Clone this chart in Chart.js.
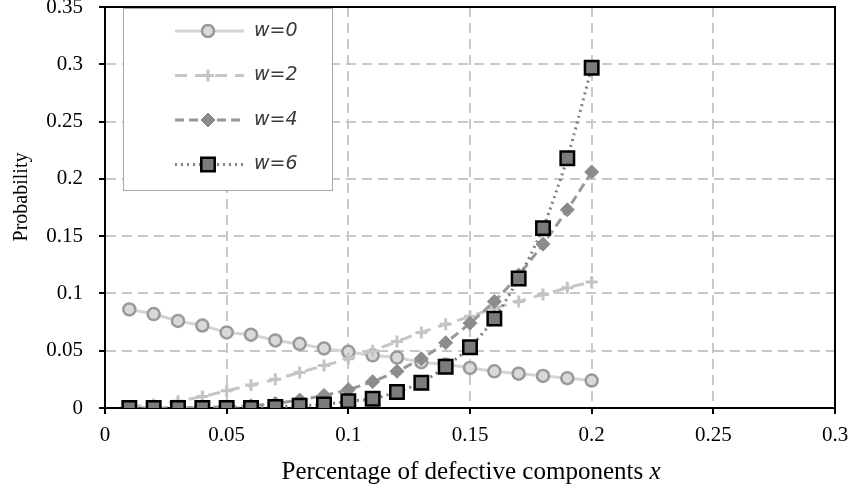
<!DOCTYPE html>
<html>
<head>
<meta charset="utf-8">
<script src="https://cdn.jsdelivr.net/npm/chart.js@4.4.0/dist/chart.umd.min.js"></script>
<style>
  html, body { margin: 0; padding: 0; background: #ffffff; }
  canvas { display: block; }
</style>
</head>
<body>
<canvas id="chart" width="855" height="492"></canvas>
<script>
// Share of defective components (x axis)
const defectShare = [0.01, 0.02, 0.03, 0.04, 0.05, 0.06, 0.07, 0.08, 0.09, 0.10,
                     0.11, 0.12, 0.13, 0.14, 0.15, 0.16, 0.17, 0.18, 0.19, 0.20];

// Probability for each w
const probW0 = [0.086, 0.082, 0.076, 0.072, 0.066, 0.064, 0.059, 0.056, 0.052, 0.049,
                0.046, 0.044, 0.040, 0.038, 0.035, 0.032, 0.030, 0.028, 0.026, 0.024];
const probW2 = [0.001, 0.003, 0.006, 0.010, 0.015, 0.020, 0.025, 0.031, 0.037, 0.043,
                0.050, 0.058, 0.066, 0.073, 0.080, 0.087, 0.093, 0.099, 0.105, 0.110];
const probW4 = [0.000, 0.000, 0.000, 0.0005, 0.001, 0.002, 0.004, 0.007, 0.011, 0.016,
                0.023, 0.032, 0.043, 0.057, 0.074, 0.093, 0.116, 0.143, 0.173, 0.206];
const probW6 = [0.000, 0.000, 0.000, 0.000, 0.000, 0.000, 0.001, 0.002, 0.003, 0.006,
                0.008, 0.014, 0.022, 0.036, 0.053, 0.078, 0.113, 0.157, 0.218, 0.297];

const seriesNames = ['w=0', 'w=2', 'w=4', 'w=6'];
const xTickLabels = ['0', '0.05', '0.1', '0.15', '0.2', '0.25', '0.3'];
const yTickLabels = ['0', '0.05', '0.1', '0.15', '0.2', '0.25', '0.3', '0.35'];
const yTitleText = 'Probability';
const xTitleText = 'Percentage of defective components ';
const xTitleVar = 'x';

const SERIF = '"Liberation Serif", "Times New Roman", serif';

function points(values) {
  return defectShare.map((x, i) => ({ x: x, y: values[i] }));
}

// Black frame on the top and right of the plot area
const frame = {
  id: 'frame',
  beforeDatasetsDraw(chart) {
    const { ctx, chartArea: a } = chart;
    ctx.save();
    ctx.strokeStyle = '#000';
    ctx.lineWidth = 2;
    ctx.beginPath();
    ctx.moveTo(a.left, a.top);
    ctx.lineTo(a.right, a.top);
    ctx.lineTo(a.right, a.bottom);
    ctx.stroke();
    ctx.restore();
  }
};

// Axis titles (x title has an italic variable name)
const axisTitles = {
  id: 'axisTitles',
  afterDraw(chart) {
    const { ctx, chartArea: a } = chart;
    ctx.save();
    ctx.fillStyle = '#000';
    ctx.textBaseline = 'middle';
    // x title
    const upright = '25px ' + SERIF;
    const slanted = 'italic 25px ' + SERIF;
    ctx.font = upright;
    const w1 = ctx.measureText(xTitleText).width;
    ctx.font = slanted;
    const w2 = ctx.measureText(xTitleVar).width;
    const cx = (a.left + a.right) / 2 + 1;
    const x0 = cx - (w1 + w2) / 2;
    ctx.textAlign = 'left';
    ctx.font = upright;
    ctx.fillText(xTitleText, x0, 472);
    ctx.font = slanted;
    ctx.fillText(xTitleVar, x0 + w1, 472);
    // y title
    ctx.translate(22, 197);
    ctx.rotate(-Math.PI / 2);
    ctx.textAlign = 'center';
    ctx.font = '20px ' + SERIF;
    ctx.fillText(yTitleText, 0, 0);
    ctx.restore();
  }
};

// Boxed legend inside the plot area: line sample, marker, label
const boxLegend = {
  id: 'boxLegend',
  afterDraw(chart, args, opts) {
    const { ctx } = chart;
    const b = opts.box;
    ctx.save();
    ctx.fillStyle = '#fff';
    ctx.fillRect(b.x, b.y, b.w, b.h);
    ctx.strokeStyle = '#a8a8a8';
    ctx.lineWidth = 1;
    ctx.strokeRect(b.x + 0.5, b.y + 0.5, b.w, b.h);
    chart.data.datasets.forEach((ds, i) => {
      const y = opts.rowTop + i * opts.rowGap;
      ctx.save();
      ctx.strokeStyle = ds.borderColor;
      ctx.lineWidth = ds.borderWidth;
      ctx.setLineDash(ds.borderDash || []);
      ctx.beginPath();
      ctx.moveTo(opts.lineFrom, y);
      ctx.lineTo(opts.lineTo, y);
      ctx.stroke();
      ctx.restore();
      ctx.save();
      ctx.fillStyle = ds.pointBackgroundColor;
      ctx.strokeStyle = ds.pointBorderColor;
      ctx.lineWidth = ds.pointBorderWidth;
      Chart.helpers.drawPoint(ctx, {
        pointStyle: ds.pointStyle, rotation: 0,
        radius: ds.pointRadius, borderWidth: ds.pointBorderWidth
      }, opts.marker, y);
      ctx.restore();
      ctx.fillStyle = '#3a3a3a';
      ctx.font = 'italic 19px "DejaVu Sans", sans-serif';
      ctx.textAlign = 'left';
      ctx.textBaseline = 'middle';
      ctx.fillText(ds.label, opts.textX, y);
    });
    ctx.restore();
  }
};

new Chart(document.getElementById('chart'), {
  type: 'line',
  data: {
    datasets: [
      {
        label: seriesNames[0], data: points(probW0), order: 3,
        borderColor: '#d4d4d4', borderWidth: 3, borderDash: [],
        pointStyle: 'circle', pointRadius: 6,
        pointBackgroundColor: '#d9d9d9', pointBorderColor: '#999999', pointBorderWidth: 2.5
      },
      {
        label: seriesNames[1], data: points(probW2), order: 2,
        borderColor: '#c6c6c6', borderWidth: 3, borderDash: [12, 8],
        pointStyle: 'cross', pointRadius: 6,
        pointBackgroundColor: '#c4c4c4', pointBorderColor: '#c4c4c4', pointBorderWidth: 3
      },
      {
        label: seriesNames[2], data: points(probW4), order: 1,
        borderColor: '#989898', borderWidth: 3, borderDash: [9, 5],
        pointStyle: 'rectRot', pointRadius: 7,
        pointBackgroundColor: '#8c8c8c', pointBorderColor: '#8c8c8c', pointBorderWidth: 1
      },
      {
        label: seriesNames[3], data: points(probW6), order: 0,
        borderColor: '#808080', borderWidth: 3, borderDash: [2, 4],
        pointStyle: 'rect', pointRadius: 9.5,
        pointBackgroundColor: '#7b7b7b', pointBorderColor: '#000000', pointBorderWidth: 2.5
      }
    ]
  },
  options: {
    responsive: false,
    animation: false,
    events: [],
    layout: { autoPadding: false, padding: { top: 7, right: 20, left: 0, bottom: 0 } },
    elements: { line: { tension: 0.2, fill: false } },
    plugins: {
      legend: { display: false },
      tooltip: { enabled: false },
      boxLegend: {
        box: { x: 123, y: 8, w: 209, h: 182 },
        rowTop: 31, rowGap: 44.5,
        lineFrom: 175, lineTo: 244, marker: 208, textX: 254
      }
    },
    scales: {
      x: {
        type: 'linear', min: 0, max: 0.3,
        ticks: {
          stepSize: 0.05, color: '#000', padding: 9, maxRotation: 0,
          font: { family: SERIF, size: 21 },
          callback: (v, i) => xTickLabels[i]
        },
        grid: { color: '#c8c8c8', lineWidth: 2, tickColor: '#000', tickWidth: 2, tickLength: 6, tickBorderDash: [] },
        border: { display: true, color: '#000', width: 2, dash: [10, 6] },
        afterFit(scale) { scale.height = 84; scale.paddingLeft = 0; scale.paddingRight = 0; }
      },
      y: {
        type: 'linear', min: 0, max: 0.35,
        ticks: {
          stepSize: 0.05, color: '#000', padding: 16,
          font: { family: SERIF, size: 21 },
          callback: (v, i) => yTickLabels[i]
        },
        grid: { color: '#c8c8c8', lineWidth: 2, tickColor: '#000', tickWidth: 2, tickLength: 6, tickBorderDash: [] },
        border: { display: true, color: '#000', width: 2, dash: [10, 6] },
        afterFit(scale) { scale.width = 105; scale.paddingTop = 0; scale.paddingBottom = 0; }
      }
    }
  },
  plugins: [frame, axisTitles, boxLegend]
});
</script>
</body>
</html>
